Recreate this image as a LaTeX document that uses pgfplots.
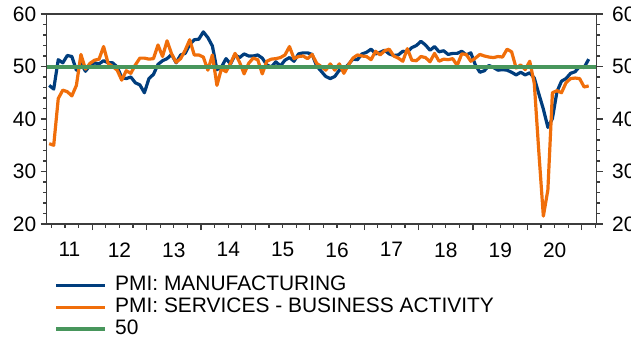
\documentclass[border=0pt]{standalone}
\usepackage{pgfplots}
\pgfplotsset{compat=1.18}
\usepackage{pgfplotstable}
\usepackage{fontspec}
\setmainfont{Liberation Sans}
\definecolor{pmiblue}{RGB}{0,61,125}
\definecolor{pmiorange}{RGB}{240,110,10}
\definecolor{pmigreen}{RGB}{72,150,92}
\definecolor{axgray}{RGB}{60,60,60}

% monthly data, Mar 2011 .. Feb 2021
\pgfplotstableread{
mfg svc
46.4 35.3
45.7 35.0
51.3 43.9
50.7 45.5
52.1 45.2
51.9 44.4
49.3 46.4
50.6 52.3
49.1 49.5
50.2 50.6
50.7 51.2
50.5 51.4
51.1 53.8
50.7 50.6
50.7 50.0
49.9 49.3
47.9 47.4
47.7 49.2
48.0 48.7
46.9 50.3
46.5 51.6
45.0 51.6
47.7 51.4
48.5 51.5
50.4 54.1
51.1 51.9
51.5 54.9
52.3 52.4
50.7 50.8
52.2 51.5
52.5 53.1
54.2 55.1
55.1 52.2
55.2 52.2
56.6 51.8
55.5 49.3
53.9 52.2
49.4 46.4
49.9 49.6
51.5 49.0
50.5 50.6
52.2 52.5
51.7 50.8
52.4 48.6
52.0 50.6
52.0 51.6
52.2 51.3
51.6 48.6
50.3 51.0
49.9 51.4
50.9 51.5
50.1 51.7
51.2 52.2
51.7 53.8
51.0 51.5
52.4 51.9
52.6 52.0
52.6 51.5
52.3 52.3
50.1 50.6
49.1 50.0
48.1 49.3
47.7 50.5
48.1 49.3
49.3 50.5
49.5 48.7
50.4 50.3
51.4 51.6
51.3 52.2
52.4 52.0
52.7 51.9
53.3 51.3
52.4 52.9
52.7 52.2
53.1 53.0
52.4 53.3
52.1 52.0
52.2 51.6
52.9 51.0
52.8 53.4
53.6 51.2
54.0 51.1
54.8 51.9
54.1 51.7
53.1 50.9
53.8 52.5
52.8 51.0
53.0 51.4
52.3 51.3
52.5 51.5
52.5 50.2
52.9 52.4
52.2 52.3
52.6 51.0
50.3 51.6
48.9 52.3
49.2 52.0
50.2 51.8
49.8 51.7
49.3 51.9
49.4 51.8
49.3 53.3
48.9 52.8
48.4 49.7
48.9 50.3
48.4 49.4
48.8 51.0
47.8 46.8
44.8 33.8
41.9 21.5
38.4 26.5
40.1 45.0
45.2 45.4
47.2 45.0
47.7 46.9
48.7 47.7
49.0 47.8
50.0 47.7
49.8 46.1
51.4 46.3
}\pmidata

\pgfplotsset{
  common/.style={
    at={(0,0)}, anchor=south west,
    scale only axis, width=550bp, height=210bp,
    xmin=-0.55, xmax=120.77, ymin=20, ymax=60,
    axis line style={axgray, line width=1.2bp},
    tick align=outside,
    major tick length=6bp, minor tick length=3.5bp,
    every tick/.style={axgray, line width=1.2bp},
    tick label style={font=\fontsize{21}{25}\selectfont},
    /pgf/number format/assume math mode=true,
    ytick={20,30,...,60}, minor ytick={22,24,...,58},
  }
}

\begin{document}
\begin{tikzpicture}
\begin{axis}[common,
  xtick={9.5,21.5,...,117.5}, xticklabels={},
  minor xtick={0.5,3.5,...,120.5},
  extra x ticks={4.475,15.5,27.5,39.5,51.5,63.5,75.5,87.5,99.5,111.5},
  extra x tick labels={11,12,13,14,15,16,17,18,19,20},
  extra x tick style={major tick length=0pt, xticklabel style={yshift=-15bp}},
  xtick pos=bottom, ytick pos=left,
  yticklabel style={xshift=-1bp},
  legend cell align=left,
  legend image code/.code={\draw[#1] (0bp,0bp) -- (49bp,0bp);},
  legend style={at={(0.0133,-0.239)}, anchor=north west, draw=none, fill=none,
    font=\fontsize{21}{25}\selectfont, inner sep=0pt, row sep=0pt, column sep=8bp,
    nodes={inner sep=0pt, text height=16bp, text depth=6bp}},
]
\addplot[pmiblue, line width=3.2bp, line join=round] table[x expr=\coordindex, y=mfg] {\pmidata};
\addlegendentry{PMI: MANUFACTURING}
\addplot[pmiorange, line width=3.2bp, line join=round] table[x expr=\coordindex, y=svc] {\pmidata};
\addlegendentry{PMI: SERVICES - BUSINESS ACTIVITY}
\addplot[pmigreen, line width=4bp] coordinates {(-0.55,50) (120.77,50)};
\addlegendentry{50}
\end{axis}
\begin{axis}[common,
  axis x line=none, axis y line*=right,
  ytick pos=right,
  yticklabel style={xshift=6bp},
]
\end{axis}
\pgfresetboundingbox
\path[use as bounding box] (-46.7bp,-116bp) rectangle (584.3bp,224bp);
\end{tikzpicture}
\end{document}
